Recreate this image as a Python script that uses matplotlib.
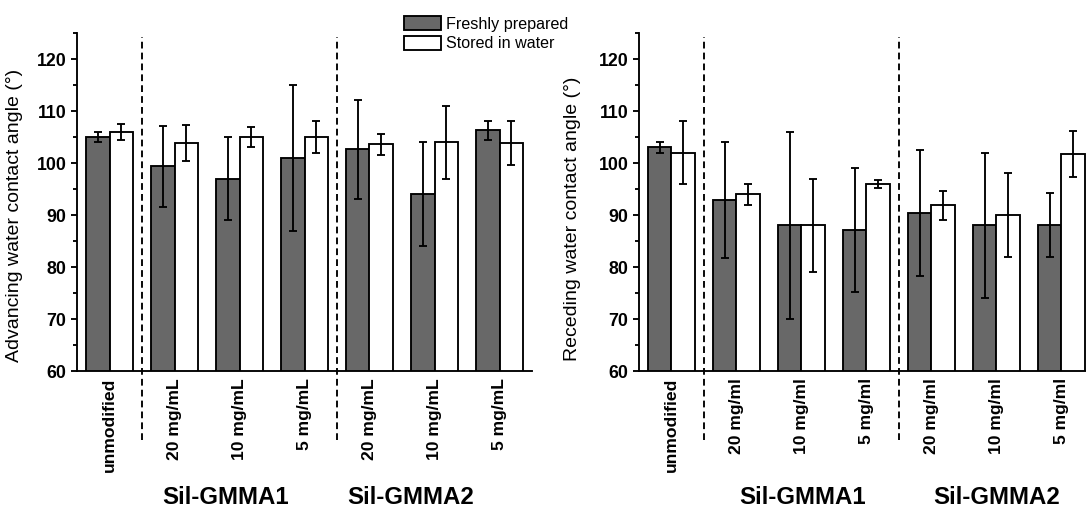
'''
Advancing / receding water contact angle, fresh vs stored in water
'''

import numpy as np
import matplotlib
matplotlib.use("Agg")
import matplotlib.pyplot as plt
from matplotlib.patches import Patch
from matplotlib.ticker import MultipleLocator

plt.rcParams['font.family'] = ['Liberation Sans', 'DejaVu Sans']

# ---- data ----
labels_adv = ["unmodified", "20 mg/mL", "10 mg/mL", "5 mg/mL",
              "20 mg/mL", "10 mg/mL", "5 mg/mL"]
labels_rec = ["unmodified", "20 mg/ml", "10 mg/ml", "5 mg/ml",
              "20 mg/ml", "10 mg/ml", "5 mg/ml"]
groups = ["Sil-GMMA1", "Sil-GMMA2"]

adv_fresh = [105.0, 99.4, 97.0, 101.0, 102.6, 94.0, 106.3]
adv_fresh_err = [0.9, 7.8, 8.0, 14.0, 9.5, 10.0, 1.8]
adv_water = [106.0, 103.9, 105.0, 105.0, 103.6, 104.0, 103.8]
adv_water_err = [1.5, 3.5, 2.0, 3.0, 2.0, 7.0, 4.2]

rec_fresh = [103.0, 92.9, 88.0, 87.1, 90.4, 88.0, 88.1]
rec_fresh_err = [1.0, 11.2, 18.0, 12.0, 12.1, 14.0, 6.2]
rec_water = [102.0, 94.0, 88.0, 96.0, 91.9, 90.0, 101.7]
rec_water_err = [6.0, 2.0, 9.0, 0.8, 2.8, 8.0, 4.4]

dark = '#686868'
lw = 1.35
W, H = 1086, 513
fig = plt.figure(figsize=(W / 100, H / 100), dpi=100, facecolor='white')

def px_axes(x0, x1, ytop, ybot):
    return fig.add_axes([x0 / W, 1 - ybot / H, (x1 - x0) / W, (ybot - ytop) / H])

def panel(ax, fresh, ferr, water, werr, labels, ylabel, xmax, lab_xy, grp_x):
    x = np.arange(len(fresh))
    bw = 0.354
    ax.bar(x - bw / 2, fresh, bw, color=dark, edgecolor='black',
           linewidth=lw, zorder=2)
    ax.bar(x + bw / 2, water, bw, color='white', edgecolor='black',
           linewidth=lw, zorder=2)
    ax.errorbar(x - bw / 2, fresh, yerr=ferr, fmt='none', ecolor='black',
                elinewidth=lw, capsize=2.9, capthick=lw, zorder=3)
    ax.errorbar(x + bw / 2, water, yerr=werr, fmt='none', ecolor='black',
                elinewidth=lw, capsize=2.9, capthick=lw, zorder=3)
    ax.set_ylim(60, 125)
    ax.set_xlim(-0.5, xmax)
    ax.yaxis.set_major_locator(MultipleLocator(10))
    ax.yaxis.set_minor_locator(MultipleLocator(5))
    ax.set_yticks(np.arange(60, 121, 10))
    ax.set_xticks(x)
    ax.set_xticklabels(labels, rotation=90, fontweight='bold', fontsize=12.6)
    for t in ax.get_yticklabels():
        t.set_fontweight('bold')
    ax.tick_params(axis='y', which='major', length=4.5, width=lw,
                   labelsize=12.8, pad=3.2, direction='out')
    ax.tick_params(axis='y', which='minor', length=3, width=lw, direction='out')
    ax.tick_params(axis='x', length=0, pad=5)
    for s in ['top', 'right']:
        ax.spines[s].set_visible(False)
    for s in ['left', 'bottom']:
        ax.spines[s].set_linewidth(lw)
    ax.set_ylabel(ylabel, fontsize=14)
    ax.yaxis.set_label_coords(*lab_xy)
    # dashed separators between unmodified / group1 / group2
    for xs in [0.5, 3.5]:
        ax.plot([xs, xs], [46.7, 124.2], color='black', lw=lw,
                dashes=(3.6, 2.2), clip_on=False, zorder=1)
    for g, gx in zip(groups, grp_x):
        ax.text(gx, -0.375, g, transform=ax.get_xaxis_transform(),
                ha='center', va='center', fontsize=17.3, fontweight='bold')

ax1 = px_axes(77, 532, 33, 371)
panel(ax1, adv_fresh, adv_fresh_err, adv_water, adv_water_err, labels_adv,
      "Advancing water contact angle (°)", 6.5, (-0.118, 0.46), [1.78, 4.63])

ax2 = px_axes(639, 1086, 33, 371)
panel(ax2, rec_fresh, rec_fresh_err, rec_water, rec_water_err, labels_rec,
      "Receding water contact angle (°)", 6.377, (-0.13, 0.45), [2.02, 5.0])

handles = [Patch(facecolor=dark, edgecolor='black', linewidth=lw),
           Patch(facecolor='white', edgecolor='black', linewidth=lw)]
fig.legend(handles, ["Freshly prepared", "Stored in water"],
           loc='upper left', bbox_to_anchor=(404 / W, 1 - 16 / H),
           frameon=False, fontsize=11.6, handlelength=2.3, handleheight=1.0,
           handletextpad=0.3, labelspacing=0.25, borderpad=0, borderaxespad=0)

fig.savefig("out.png", dpi=100, facecolor='white')
